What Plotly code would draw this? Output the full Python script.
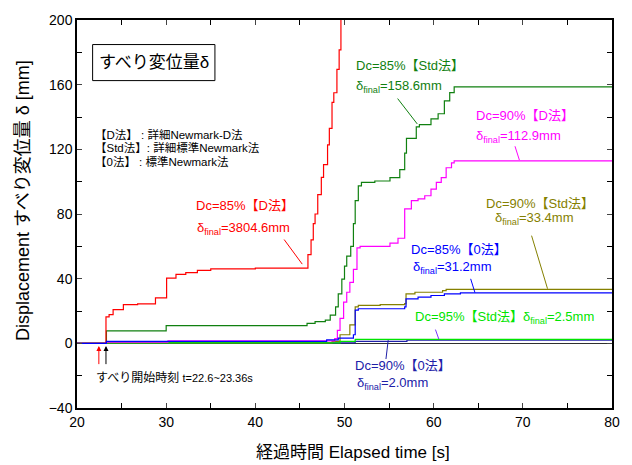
import plotly.graph_objects as go

# ---- data (time [s], displacement [mm]); step curves, value holds until next time ----
red_t = [20, 23.25, 23.6, 24.05, 25.2, 26.8, 28.8, 30.05, 31.1, 32.2, 33.5, 35.0, 40.0, 45.9,
         46.25, 46.5, 46.7, 47.0, 47.4, 47.65, 48.1, 48.3, 48.6, 48.8, 49.15, 49.4, 49.6, 50.2, 80]
red_v = [0, 16.4, 17.8, 20.8, 23.9, 24.4, 28.1, 40.3, 42.7, 43.7, 45.1, 46.0, 46.5, 54.9,
         64.0, 74.0, 80.0, 92.0, 102.6, 110.6, 122.7, 133.0, 149.0, 155.0, 169.5, 181.5, 215.0, 320.0, 3804.6]

dgreen_t = [20, 23.3, 30.0, 45.8, 46.7, 47.85, 48.4, 49.0, 49.3, 49.7, 50.0, 50.25, 50.7, 51.0, 51.2,
            51.55, 51.9, 53.4, 55.1, 56.2, 56.75, 56.95, 58.05, 58.4, 59.7, 60.5, 61.2, 61.8, 62.3, 80]
dgreen_v = [0, 7.7, 10.9, 12.3, 13.4, 14.4, 17.4, 22.5, 30.6, 39.7, 47.8, 53.9, 60.0, 74.0, 88.3,
            97.4, 99.5, 100.4, 102.5, 107.5, 117.7, 126.8, 133.9, 135.3, 138.9, 142.0, 150.0, 155.1, 158.6, 158.6]

mag_t = [20, 23.3, 30.2, 48.9, 49.2, 49.5, 49.9, 50.25, 50.6, 51.0, 51.4, 51.75, 55.1, 56.0, 56.75,
         57.5, 58.25, 59.0, 59.7, 60.3, 60.85, 61.4, 62.0, 62.3, 80]
mag_v = [0, 0.8, 1.5, 3.0, 8.0, 15.4, 25.5, 31.6, 37.7, 45.7, 59.0, 60.0, 62.0, 65.0, 83.2,
         88.3, 89.3, 91.3, 95.4, 99.5, 102.5, 108.6, 111.6, 112.9, 112.9]

olive_t = [20, 23.3, 48.6, 49.5, 50.6, 51.2, 51.55, 54.0, 56.75, 56.9, 57.9, 61.0, 61.4, 80]
olive_v = [0, 0.3, 1.2, 5.3, 11.4, 22.5, 23.5, 24.0, 24.5, 30.6, 31.6, 32.6, 33.4, 33.4]

blue_t = [20, 23.3, 48.0, 49.3, 51.0, 51.2, 51.55, 56.75, 56.9, 58.25, 59.7, 61.2, 63.0, 80]
blue_v = [0, 1.2, 2.2, 3.2, 5.3, 20.5, 21.4, 22.5, 27.5, 28.6, 29.6, 30.6, 31.2, 31.2]

lgreen_t = [20, 23.3, 49.5, 51.2, 80]
lgreen_v = [0, 0.3, 1.2, 2.5, 2.5]

navy_t = [20, 23.3, 51.2, 57.0, 80]
navy_v = [0, 0.3, 1.2, 2.0, 2.0]

x_ticks = [20, 30, 40, 50, 60, 70, 80]
y_ticks = [-40, 0, 40, 80, 120, 160, 200]

FONT = "Liberation Sans, Arial, Noto Sans CJK JP, sans-serif"

C_RED = "#ff0000"
C_DG = "#108010"
C_MAG = "#ff00ff"
C_OL = "#858000"
C_BL = "#0000ff"
C_LG = "#00e400"
C_NV = "#2020a8"

fig = go.Figure()
series = [
    (navy_t, navy_v, C_NV),
    (olive_t, olive_v, C_OL),
    (lgreen_t, lgreen_v, C_LG),
    (dgreen_t, dgreen_v, C_DG),
    (mag_t, mag_v, C_MAG),
    (red_t, red_v, C_RED),
    (blue_t, blue_v, C_BL),
]
for t, v, c in series:
    fig.add_trace(go.Scatter(x=t, y=v, mode="lines", line=dict(color=c, width=1.2, shape="hv"),
                             showlegend=False, hoverinfo="skip"))

ann = []
def txt(x, y, s, color, size=13, xanchor="left", xref="x", yref="y"):
    ann.append(dict(x=x, y=y, xref=xref, yref=yref, text=s, showarrow=False, xanchor=xanchor,
                    yanchor="middle", font=dict(color=color, size=size, family=FONT)))

SUB = "<sub>final</sub>"
# curve labels
txt(33.1, 85.3, "Dc=85%【D法】", C_RED)
txt(33.2, 71.3, "δ" + SUB + "=3804.6mm", C_RED)
txt(51.1, 172.0, "Dc=85%【Std法】", C_DG)
txt(51.1, 159.0, "δ" + SUB + "=158.6mm", C_DG)
txt(64.5, 141.2, "Dc=90%【D法】", C_MAG)
txt(64.5, 127.7, "δ" + SUB + "=112.9mm", C_MAG)
txt(65.6, 86.6, "Dc=90%【Std法】", C_OL)
txt(66.6, 77.0, "δ" + SUB + "=33.4mm", C_OL)
txt(57.2, 58.1, "Dc=85%【0法】", C_BL)
txt(57.5, 47.0, "δ" + SUB + "=31.2mm", C_BL)
txt(57.7, 16.0, "Dc=95%【Std法】δ" + SUB + "=2.5mm", C_LG)
txt(51.0, -13.8, "Dc=90%【0法】", C_NV)
txt(51.2, -24.9, "δ" + SUB + "=2.0mm", C_NV)

# legend of methods
txt(21.8, 129.4, "【D法】 : 詳細Newmark-D法", "#000000", size=11.5)
txt(21.8, 121.3, "【Std法】: 詳細標準Newmark法", "#000000", size=11.5)
txt(21.8, 112.5, "【0法】 : 標準Newmark法", "#000000", size=11.5)

# boxed title
txt(28.6, 173.6, "すべり変位量δ", "#000000", size=17, xanchor="center")

# slip onset text
txt(21.95, -21.5, "すべり開始時刻 <span style='font-size:11px'>t=22.6~23.36s</span>", "#000000", size=12)

# arrows
for xa, col in [(22.45, C_RED), (23.25, "#000000")]:
    ann.append(dict(x=xa, y=-1.6, ax=xa, ay=-13.8, xref="x", yref="y", axref="x", ayref="y",
                    text="", showarrow=True, arrowhead=2, arrowsize=1, arrowwidth=1,
                    arrowcolor=col))

# axis titles (paper coords are relative to the plot area: x 77..615, y 13..408 px)
ann.append(dict(x=(354.5 - 77) / 538, y=(408 - 453) / 395, xref="paper", yref="paper", showarrow=False,
                text="経過時間 Elapsed time [s]", xanchor="center", yanchor="middle",
                font=dict(size=17, family=FONT, color="#000000")))
ann.append(dict(x=(22 - 77) / 538, y=(408 - 197) / 395, xref="paper", yref="paper", showarrow=False,
                text="Displacement すべり変位量 δ [mm]", textangle=-90, xanchor="center",
                yanchor="middle", font=dict(size=18, family=FONT, color="#000000")))

# leader lines
leaders = [
    (43.23, 64.2, 45.26, 49.0, C_RED),
    (55.96, 151.4, 58.16, 135.7, C_DG),
    (69.12, 121.9, 69.61, 113.4, C_MAG),
    (70.98, 66.6, 72.77, 33.8, C_OL),
    (64.15, 39.9, 64.63, 31.4, C_BL),
    (60.2, 8.5, 60.58, 2.6, "#7a30ff"),
    (54.9, 2.0, 54.65, -9.7, C_NV),
]
shapes = []
for x0, y0, x1, y1, c in leaders:
    shapes.append(dict(type="line", x0=x0, y0=y0, x1=x1, y1=y1, xref="x", yref="y",
                       line=dict(color=c, width=1)))
# title box
shapes.append(dict(type="rect", xref="paper", yref="paper",
                   x0=(92.7 - 77) / 538, x1=(215.7 - 77) / 538,
                   y0=(408.3 - 75) / 395, y1=(408.3 - 38.3) / 395,
                   line=dict(color="#000000", width=1)))

fig.update_layout(
    width=632, height=465,
    margin=dict(l=77, r=17, t=13, b=57),
    paper_bgcolor="white", plot_bgcolor="white",
    font=dict(family=FONT, size=14, color="#000000"),
    annotations=ann, shapes=shapes,
    showlegend=False,
)
fig.update_xaxes(range=[20, 80], tickvals=x_ticks, ticks="inside", ticklen=5, tickwidth=1,
                 showline=True, linecolor="#000000", linewidth=1.5, mirror="ticks",
                 showgrid=False, zeroline=False, ticklabeloverflow="allow",
                 minor=dict(dtick=5, tick0=20, ticks="inside", ticklen=5, tickcolor="#000000"),
                 tickfont=dict(size=14, family=FONT))
fig.update_yaxes(range=[-40, 200], tickvals=y_ticks, ticks="inside", ticklen=5, tickwidth=1,
                 showline=True, linecolor="#000000", linewidth=1.5, mirror="ticks",
                 showgrid=False, zeroline=True, zerolinecolor="#303030", zerolinewidth=1,
                 ticklabeloverflow="allow",
                 minor=dict(dtick=20, tick0=0, ticks="inside", ticklen=5, tickcolor="#000000"),
                 tickfont=dict(size=14, family=FONT))

# remove the default page margin so the figure sits at the window's top-left corner
fig.write_html("out.html", config={"displayModeBar": False},
               post_script="document.body.style.margin='0';")
